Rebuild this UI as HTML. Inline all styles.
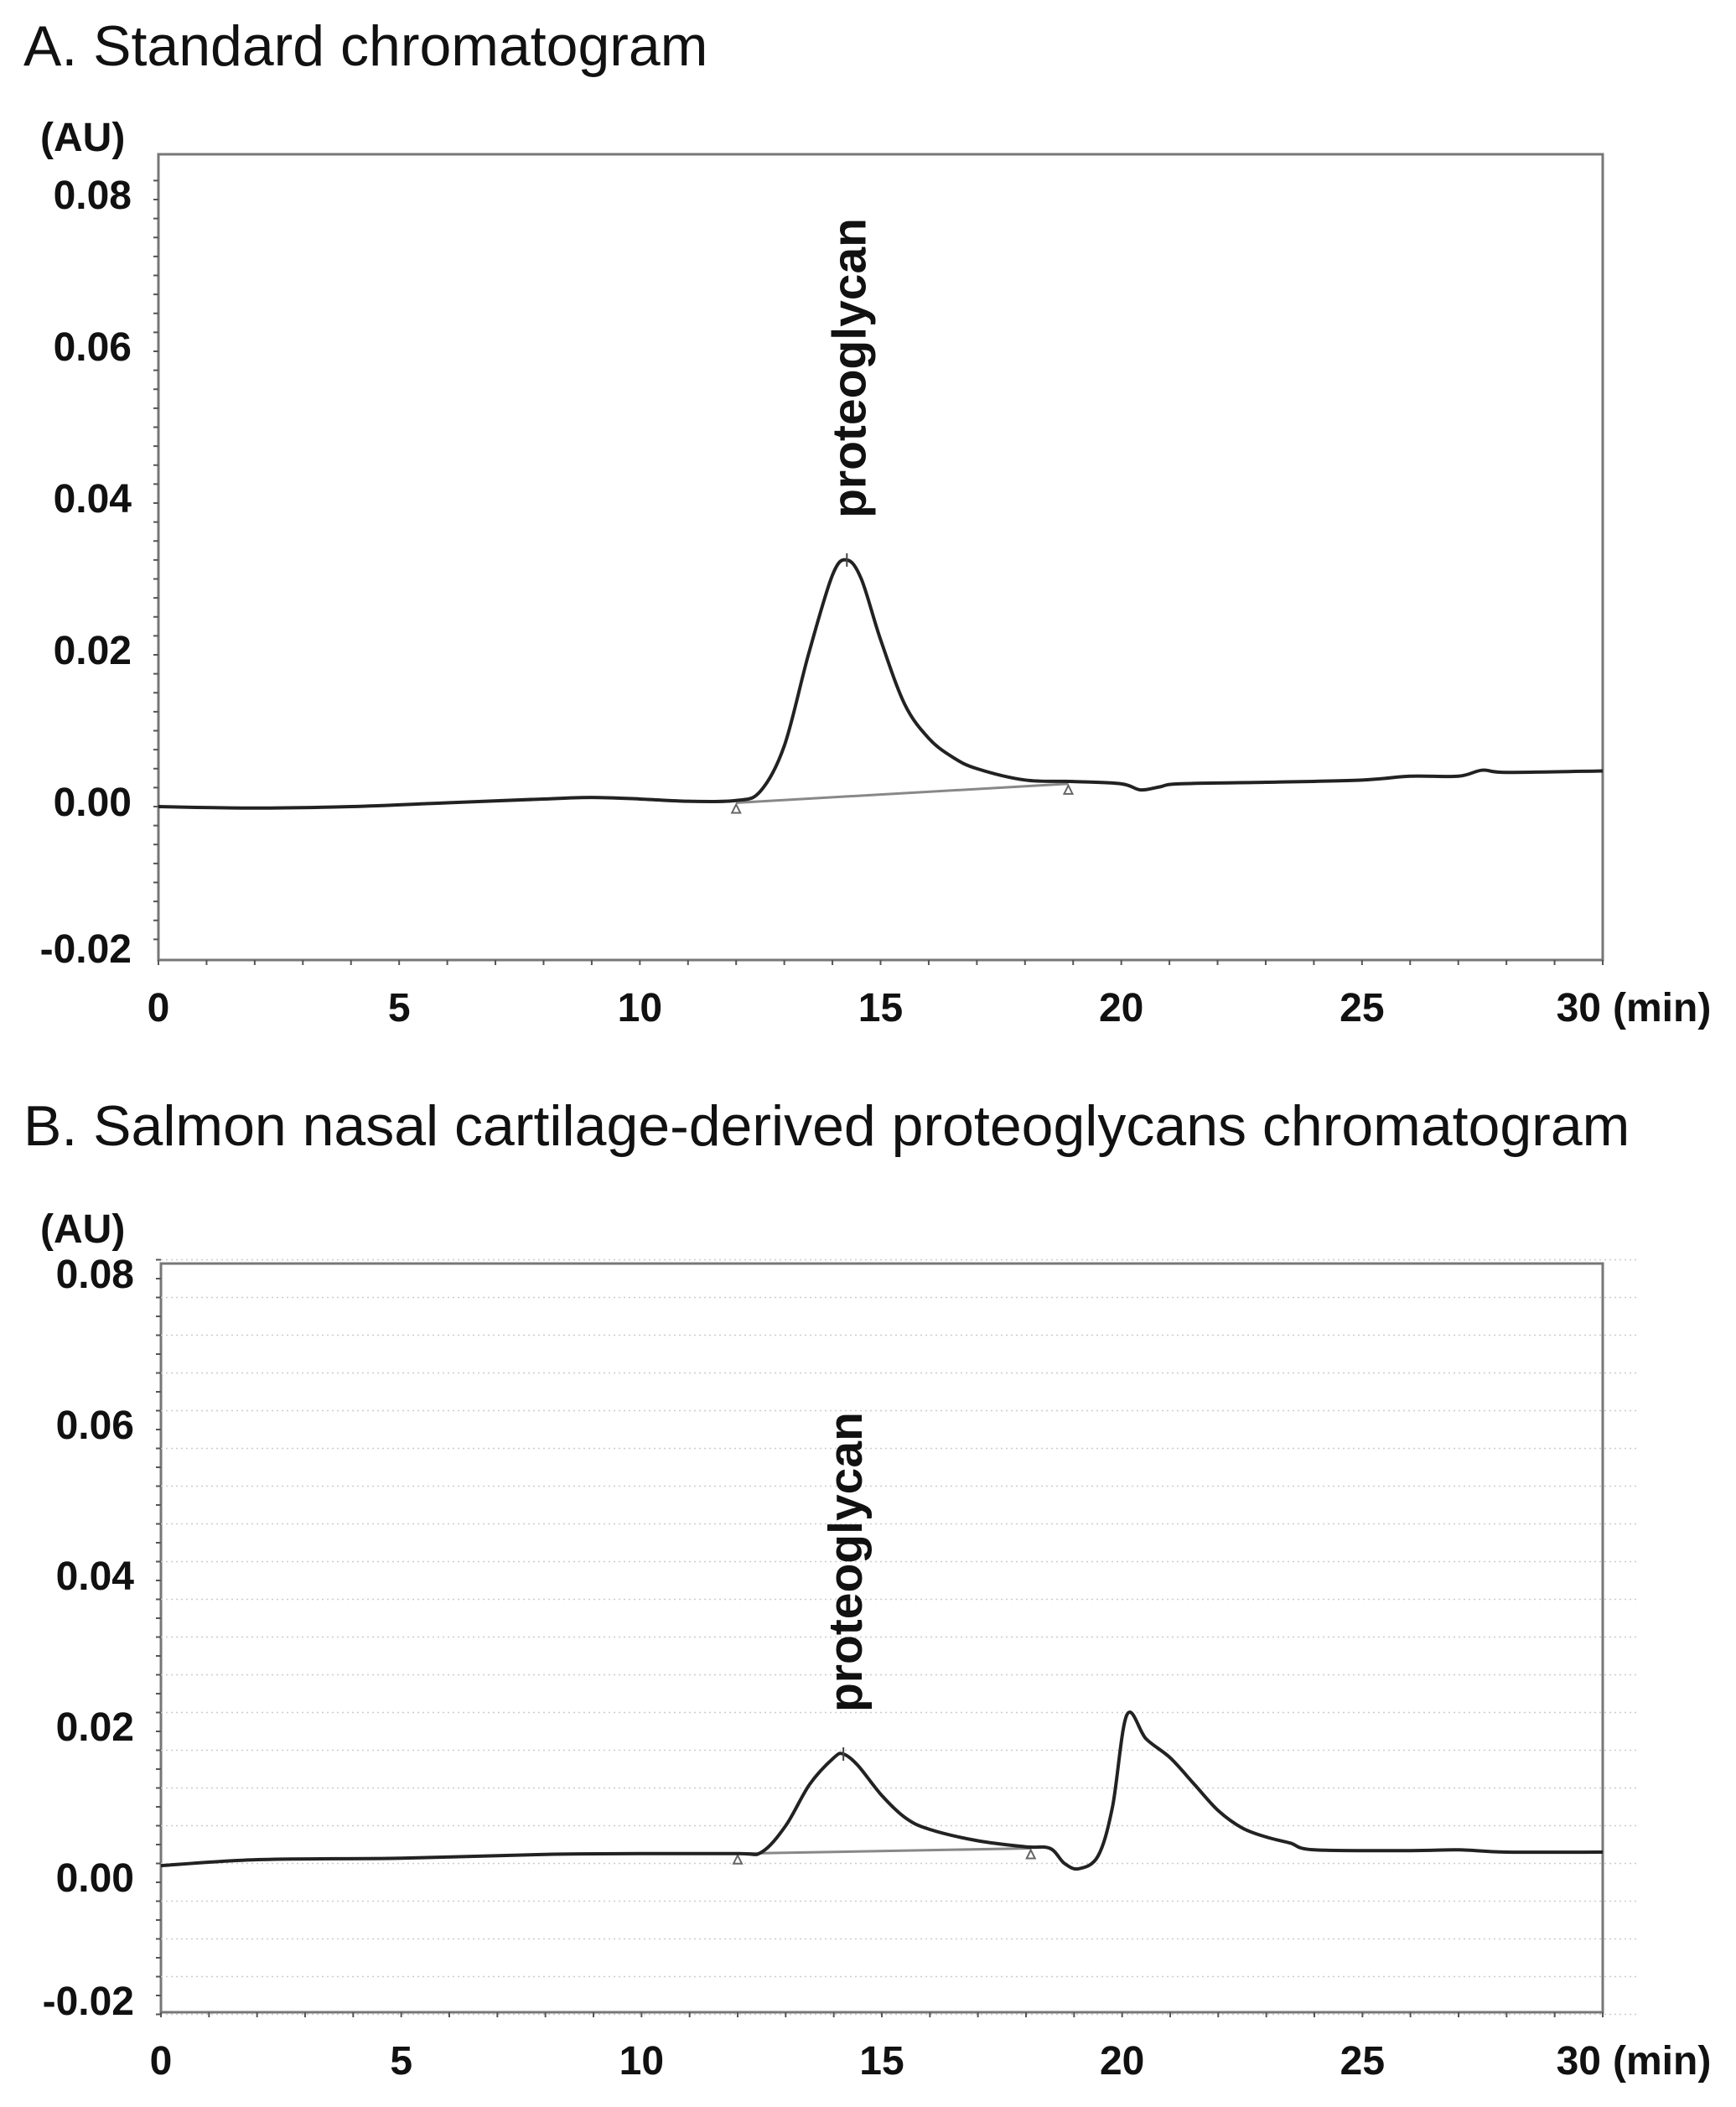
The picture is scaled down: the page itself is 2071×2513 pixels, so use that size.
<!DOCTYPE html>
<html><head><meta charset="utf-8">
<style>
html,body{margin:0;padding:0;background:#fff;}
svg{display:block;font-family:"Liberation Sans",Arial,sans-serif;}
.title{font-size:68px;fill:#111;}
.tick{font-size:48px;font-weight:bold;fill:#111;}
.lab{font-size:57px;font-weight:bold;fill:#111;}
</style></head>
<body>
<svg id="fig" width="2071" height="2513" viewBox="0 0 2071 2513" xmlns="http://www.w3.org/2000/svg">
<text class="title" x="28" y="78">A. Standard chromatogram</text>
<text class="title" x="28" y="1366">B. Salmon nasal cartilage-derived proteoglycans chromatogram</text>
<g id="chartA"></g>
<g id="chartB"></g>
</svg>
<script>
const xTicks = [0, 5, 10, 15, 20, 25, 30];
const yTicks = [0.08, 0.06, 0.04, 0.02, 0.00, -0.02];
const yTickLabels = ["0.08", "0.06", "0.04", "0.02", "0.00", "-0.02"];
const timesA = [0, 2, 4, 6, 8, 9, 10, 11, 12, 12.5, 13, 13.5, 14, 14.3, 14.6, 15, 15.5, 16, 16.5, 17, 18, 19, 20, 20.4, 20.8, 21.2, 23, 25, 26, 27, 27.5, 28, 30];
const valuesA = [0, -0.0002, 0, 0.0005, 0.001, 0.0012, 0.001, 0.0007, 0.0008, 0.002, 0.008, 0.02, 0.0305, 0.0325, 0.030, 0.022, 0.0135, 0.009, 0.0065, 0.005, 0.0035, 0.0033, 0.003, 0.0022, 0.0026, 0.003, 0.0032, 0.0035, 0.004, 0.004, 0.0048, 0.0045, 0.0047];
const baseA = [[12, 0.0005], [18.9, 0.003]];
const peakA = [14.3, 0.0325];
const timesB = [0, 2, 5, 8, 10, 12, 12.5, 13, 13.5, 14, 14.2, 14.5, 15, 15.5, 16, 17, 18, 18.5, 18.8, 19.1, 19.5, 19.8, 20.1, 20.5, 21, 21.5, 22, 22.5, 23, 23.5, 24, 26, 27, 28, 30];
const valuesB = [0.0022, 0.003, 0.0032, 0.0037, 0.0038, 0.0038, 0.004, 0.0075, 0.013, 0.0165, 0.017, 0.0155, 0.0115, 0.0085, 0.007, 0.0055, 0.0047, 0.0045, 0.0025, 0.0018, 0.0035, 0.01, 0.0222, 0.019, 0.0165, 0.013, 0.0095, 0.0072, 0.006, 0.0052, 0.0043, 0.0042, 0.0043, 0.0040, 0.0040];
const baseB = [[12, 0.0038], [18.1, 0.0045]];
const peakB = [14.2, 0.017];

const NS = "http://www.w3.org/2000/svg";
function mk(parent, tag, attrs) {
  const e = document.createElementNS(NS, tag);
  for (const k in attrs) e.setAttribute(k, attrs[k]);
  parent.appendChild(e);
  return e;
}
function drawChart(g, cfg, times, values, base, peak, grid) {
  const sx = t => cfg.left + (t / 30) * (cfg.right - cfg.left);
  const sy = v => cfg.zero - v / 0.02 * cfg.step;
  const fr = mk(g, "rect", {x: cfg.left, y: cfg.top, width: cfg.right - cfg.left, height: cfg.bottom - cfg.top, fill: "none", stroke: "#777", "stroke-width": 3});
  
  
  if (grid) {
    for (let v = -0.0175; v <= 0.085; v += 0.005) {
      const gl = mk(g, "line", {x1: cfg.left, x2: cfg.right + 40, y1: sy(v), y2: sy(v), stroke: "#ccc", "stroke-width": 1.5, "stroke-dasharray": "2 4"});
      
      
    }
  }
  for (let t = 0; t <= 30; t += 1) {
    mk(g, "line", {x1: sx(t), x2: sx(t), y1: cfg.bottom, y2: cfg.bottom + 6, stroke: "#555", "stroke-width": 2});
  }
  for (let v = -0.0175; v <= 0.085; v += 0.0025) {
    mk(g, "line", {x1: cfg.left - 6, x2: cfg.left, y1: sy(v), y2: sy(v), stroke: "#555", "stroke-width": 2});
  }
  yTicks.forEach((v, i) => {
    let y = sy(v) - 6;
    if (y > cfg.bottom - 14) y = cfg.bottom - 14;
    const tx = mk(g, "text", {x: cfg.left - 32, y: y + 17, "text-anchor": "end", class: "tick"});
    tx.textContent = yTickLabels[i];
    
    
  });
  xTicks.forEach((t, i) => {
    const last = i === xTicks.length - 1;
    const tx = mk(g, "text", {x: last ? sx(t) - 2 : sx(t), y: cfg.xlab, "text-anchor": last ? "end" : "middle", class: "tick"});
    tx.textContent = String(t);
    
    
  });
  const mu = mk(g, "text", {x: cfg.right + 12, y: cfg.xlab, class: "tick"});
  mu.textContent = "(min)";
  
  
  const au = mk(g, "text", {x: 48, y: cfg.auY, class: "tick"});
  au.textContent = "(AU)";
  
  
  const bl = mk(g, "line", {x1: sx(base[0][0]), y1: sy(base[0][1]), x2: sx(base[1][0]), y2: sy(base[1][1]), stroke: "#888", "stroke-width": 3});
  
  
  base.forEach(b => {
    const m = mk(g, "path", {d: `M${sx(b[0])-5},${sy(b[1])+12} L${sx(b[0])},${sy(b[1])+2} L${sx(b[0])+5},${sy(b[1])+12} Z`, fill: "none", stroke: "#666", "stroke-width": 2});
    
    
  });
  const pts = times.map((t, i) => [sx(t), sy(values[i])]);
  let d = `M${pts[0][0]},${pts[0][1]}`;
  for (let i = 1; i < pts.length; i++) {
    const p0 = pts[Math.max(0, i - 2)], p1 = pts[i - 1], p2 = pts[i], p3 = pts[Math.min(pts.length - 1, i + 1)];
    const c1 = [p1[0] + (p2[0] - p0[0]) / 6, p1[1] + (p2[1] - p0[1]) / 6];
    const c2 = [p2[0] - (p3[0] - p1[0]) / 6, p2[1] - (p3[1] - p1[1]) / 6];
    d += ` C${c1[0]},${c1[1]} ${c2[0]},${c2[1]} ${p2[0]},${p2[1]}`;
  }
  const tr = mk(g, "path", {d: d, fill: "none", stroke: "#222", "stroke-width": 4});
  
  
  const pk = mk(g, "line", {x1: sx(peak[0]), x2: sx(peak[0]), y1: sy(peak[1]) - 8, y2: sy(peak[1]) + 8, stroke: "#444", "stroke-width": 2});
  
  
  const px = sx(peak[0]) + 22, py = sy(peak[1]) - 50;
  const lab = mk(g, "text", {x: px, y: py, class: "lab", transform: `rotate(-90 ${px} ${py})`});
  lab.textContent = "proteoglycan";
  
  
}
drawChart(document.getElementById("chartA"), {left: 189, right: 1912, top: 184, bottom: 1145, zero: 962, step: 181, xlab: 1218, auY: 180}, timesA, valuesA, baseA, peakA, false);
drawChart(document.getElementById("chartB"), {left: 192, right: 1912, top: 1507, bottom: 2400, zero: 2245, step: 180, xlab: 2474, auY: 1482}, timesB, valuesB, baseB, peakB, true);
</script>
</body></html>
